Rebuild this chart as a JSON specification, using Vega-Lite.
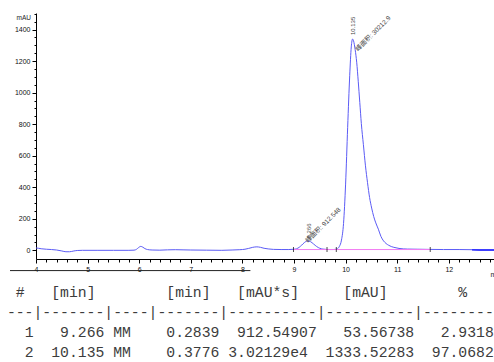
{
  "$schema": "https://vega.github.io/schema/vega-lite/v6.json",
  "autosize": "none",
  "padding": {"left": 36, "top": 13, "right": 0, "bottom": 103},
  "width": 458,
  "height": 246,
  "background": "white",
  "config": {
    "view": {"stroke": null},
    "axis": {
      "grid": false,
      "domainColor": "#000",
      "tickColor": "#000",
      "labelFont": "Liberation Sans",
      "labelFontSize": 7,
      "labelColor": "#111",
      "titleFont": "Liberation Sans",
      "titleFontSize": 6.5,
      "titleFontWeight": "normal",
      "titleColor": "#222"
    }
  },
  "datasets": {
    "curve": [
      {"t": 4.00, "v": 15}, {"t": 4.05, "v": 13}, {"t": 4.10, "v": 10}, {"t": 4.20, "v": 7},
      {"t": 4.30, "v": 5}, {"t": 4.40, "v": 2}, {"t": 4.50, "v": -4}, {"t": 4.58, "v": -9},
      {"t": 4.65, "v": -9}, {"t": 4.72, "v": -5}, {"t": 4.80, "v": -1}, {"t": 4.90, "v": 0},
      {"t": 5.20, "v": 0}, {"t": 5.50, "v": 0}, {"t": 5.80, "v": 0}, {"t": 5.90, "v": 1},
      {"t": 5.95, "v": 7}, {"t": 5.99, "v": 18}, {"t": 6.03, "v": 25}, {"t": 6.07, "v": 20},
      {"t": 6.11, "v": 11}, {"t": 6.16, "v": 5}, {"t": 6.25, "v": 2}, {"t": 6.40, "v": 1},
      {"t": 6.55, "v": 3}, {"t": 6.70, "v": 4}, {"t": 6.85, "v": 3}, {"t": 7.00, "v": 2},
      {"t": 7.30, "v": 1}, {"t": 7.60, "v": 0}, {"t": 7.80, "v": 2}, {"t": 7.95, "v": 4},
      {"t": 8.05, "v": 7}, {"t": 8.12, "v": 12}, {"t": 8.20, "v": 19}, {"t": 8.28, "v": 22},
      {"t": 8.35, "v": 19}, {"t": 8.42, "v": 13}, {"t": 8.50, "v": 9}, {"t": 8.60, "v": 6},
      {"t": 8.75, "v": 5}, {"t": 8.90, "v": 5}, {"t": 9.00, "v": 7}, {"t": 9.05, "v": 10},
      {"t": 9.10, "v": 19}, {"t": 9.15, "v": 33}, {"t": 9.20, "v": 49}, {"t": 9.266, "v": 60},
      {"t": 9.32, "v": 55}, {"t": 9.38, "v": 40}, {"t": 9.44, "v": 24}, {"t": 9.50, "v": 13},
      {"t": 9.56, "v": 8}, {"t": 9.62, "v": 6}, {"t": 9.70, "v": 5}, {"t": 9.76, "v": 5},
      {"t": 9.80, "v": 6}, {"t": 9.84, "v": 10}, {"t": 9.88, "v": 25}, {"t": 9.92, "v": 65},
      {"t": 9.96, "v": 170}, {"t": 10.00, "v": 420}, {"t": 10.04, "v": 780}, {"t": 10.08, "v": 1110},
      {"t": 10.11, "v": 1290}, {"t": 10.135, "v": 1340}, {"t": 10.155, "v": 1327}, {"t": 10.185, "v": 1273},
      {"t": 10.215, "v": 1193}, {"t": 10.245, "v": 1072}, {"t": 10.275, "v": 938}, {"t": 10.305, "v": 804},
      {"t": 10.345, "v": 670}, {"t": 10.385, "v": 536}, {"t": 10.425, "v": 429}, {"t": 10.465, "v": 335},
      {"t": 10.505, "v": 268}, {"t": 10.545, "v": 214}, {"t": 10.585, "v": 174}, {"t": 10.635, "v": 134},
      {"t": 10.685, "v": 88}, {"t": 10.735, "v": 60}, {"t": 10.785, "v": 43}, {"t": 10.835, "v": 32},
      {"t": 10.885, "v": 24}, {"t": 10.935, "v": 19}, {"t": 11.035, "v": 12}, {"t": 11.2, "v": 8},
      {"t": 11.4, "v": 7}, {"t": 11.6, "v": 6}, {"t": 11.9, "v": 5}, {"t": 12.2, "v": 5},
      {"t": 12.45, "v": 4}, {"t": 12.6, "v": 2}, {"t": 12.876, "v": 2}
    ],
    "tail": [{"t": 12.45, "v": 3}, {"t": 12.6, "v": 2}, {"t": 12.876, "v": 2}],
    "baseline": [{"t": 8.99, "v": 5}, {"t": 11.64, "v": 5}],
    "marks": [{"t": 8.99, "v": 5}, {"t": 9.64, "v": 5}, {"t": 9.82, "v": 5}, {"t": 11.64, "v": 5}],
    "rt": [
      {"t": 9.285, "v": 75, "label": "9.266"},
      {"t": 10.135, "v": 1365, "label": "10.135"}
    ],
    "area": [
      {"t": 9.246, "v": 55, "label": "峰面积: 912.548"},
      {"t": 10.215, "v": 1270, "label": "峰面积: 30212.9"}
    ],
    "table": [
      {"row": 0, "end": 2, "text": "#"},
      {"row": 0, "end": 10, "text": "[min]"},
      {"row": 0, "end": 23, "text": "[min]"},
      {"row": 0, "end": 33, "text": "[mAU*s]"},
      {"row": 0, "end": 43, "text": "[mAU]"},
      {"row": 0, "end": 52, "text": "%"},
      {"row": 1, "end": 56, "text": "---|-------|----|-------|----------|----------|--------|"},
      {"row": 2, "end": 3, "text": "1"},
      {"row": 2, "end": 11, "text": "9.266"},
      {"row": 2, "end": 14, "text": "MM"},
      {"row": 2, "end": 24, "text": "0.2839"},
      {"row": 2, "end": 35, "text": "912.54907"},
      {"row": 2, "end": 46, "text": "53.56738"},
      {"row": 2, "end": 55, "text": "2.9318"},
      {"row": 3, "end": 3, "text": "2"},
      {"row": 3, "end": 11, "text": "10.135"},
      {"row": 3, "end": 14, "text": "MM"},
      {"row": 3, "end": 24, "text": "0.3776"},
      {"row": 3, "end": 34, "text": "3.02129e4"},
      {"row": 3, "end": 46, "text": "1333.52283"},
      {"row": 3, "end": 55, "text": "97.0682"}
    ],
    "sep": [{"row": -1.13, "c0": 0.34, "c1": 27.5}]
  },
  "layer": [
    {
      "layer": [
        {
          "data": {"name": "curve"},
          "mark": {"type": "line", "color": "#5b5bf5", "strokeWidth": 1, "interpolate": "monotone"},
          "encoding": {
            "x": {"field": "t", "type": "quantitative",
                  "scale": {"domain": [4, 12.876], "nice": false, "zero": false},
                  "axis": {"values": [4, 5, 6, 7, 8, 9, 10, 11, 12], "format": "d", "tickSize": 4,
                           "labelPadding": 2, "labelFlush": false, "title": "min",
                           "titleX": 454, "titleY": 11, "titleAlign": "left", "titleFontSize": 7}},
            "y": {"field": "v", "type": "quantitative",
                  "scale": {"domain": [-55, 1505], "nice": false, "zero": false},
                  "axis": {"values": [0, 200, 400, 600, 800, 1000, 1200, 1400], "format": "d", "tickSize": 4,
                           "labelPadding": 2, "labelFlush": false, "title": "mAU", "titleAngle": 0,
                           "titleX": -20, "titleY": 4, "titleAlign": "left", "titleBaseline": "middle"}}
          }
        },
        {
          "data": {"name": "tail"},
          "mark": {"type": "line", "color": "#1a1aff", "strokeWidth": 1.3},
          "encoding": {
            "x": {"field": "t", "type": "quantitative", "axis": null},
            "y": {"field": "v", "type": "quantitative", "axis": null}
          }
        },
        {
          "data": {"name": "baseline"},
          "mark": {"type": "line", "color": "#f27cf2", "strokeWidth": 1},
          "encoding": {
            "x": {"field": "t", "type": "quantitative",
                  "axis": {"values": [4.2, 4.4, 4.6, 4.8, 5.2, 5.4, 5.6, 5.8, 6.2, 6.4, 6.6, 6.8, 7.2, 7.4, 7.6, 7.8, 8.2, 8.4, 8.6, 8.8, 9.2, 9.4, 9.6, 9.8, 10.2, 10.4, 10.6, 10.8, 11.2, 11.4, 11.6, 11.8, 12.2, 12.4, 12.6, 12.8],
                           "orient": "bottom", "tickSize": 3, "labels": false, "domain": false, "title": null}},
            "y": {"field": "v", "type": "quantitative",
                  "axis": {"values": [50, 100, 150, 250, 300, 350, 450, 500, 550, 650, 700, 750, 850, 900, 950, 1050, 1100, 1150, 1250, 1300, 1350, 1450, 1500],
                           "orient": "left", "tickSize": 2, "labels": false, "domain": false, "title": null}}
          }
        },
        {
          "data": {"name": "marks"},
          "mark": {"type": "tick", "orient": "vertical", "color": "#000", "size": 5, "thickness": 1},
          "encoding": {
            "x": {"field": "t", "type": "quantitative", "axis": null},
            "y": {"field": "v", "type": "quantitative", "axis": null}
          }
        },
        {
          "data": {"name": "rt"},
          "mark": {"type": "text", "angle": 270, "align": "left", "baseline": "middle",
                   "font": "Liberation Sans", "fontSize": 6, "color": "#444"},
          "encoding": {
            "x": {"field": "t", "type": "quantitative", "axis": null},
            "y": {"field": "v", "type": "quantitative", "axis": null},
            "text": {"field": "label"}
          }
        },
        {
          "data": {"name": "area"},
          "mark": {"type": "text", "angle": 315, "align": "left", "baseline": "middle",
                   "font": "Liberation Sans, Noto Sans CJK SC", "fontSize": 6.5, "color": "#444"},
          "encoding": {
            "x": {"field": "t", "type": "quantitative", "axis": null},
            "y": {"field": "v", "type": "quantitative", "axis": null},
            "text": {"field": "label"}
          }
        }
      ],
      "resolve": {"axis": {"x": "independent", "y": "independent"}}
    },
    {
      "layer": [
        {
          "data": {"name": "table"},
          "mark": {"type": "text", "align": "right", "baseline": "middle",
                   "font": "Liberation Mono", "fontSize": 14.75, "color": "#3c3c3c"},
          "encoding": {
            "x": {"field": "end", "type": "quantitative",
                  "scale": {"domain": [0, 56], "range": [-29, 466.6], "nice": false, "zero": false},
                  "axis": null},
            "y": {"field": "row", "type": "quantitative",
                  "scale": {"domain": [0, 3], "range": [280, 339.5], "nice": false, "zero": false},
                  "axis": null},
            "text": {"field": "text"}
          }
        },
        {
          "data": {"name": "sep"},
          "mark": {"type": "rule", "color": "#222", "strokeWidth": 1},
          "encoding": {
            "x": {"field": "c0", "type": "quantitative", "axis": null},
            "x2": {"field": "c1"},
            "y": {"field": "row", "type": "quantitative", "axis": null}
          }
        }
      ]
    }
  ],
  "resolve": {"scale": {"x": "independent", "y": "independent"}, "axis": {"x": "independent", "y": "independent"}}
}
